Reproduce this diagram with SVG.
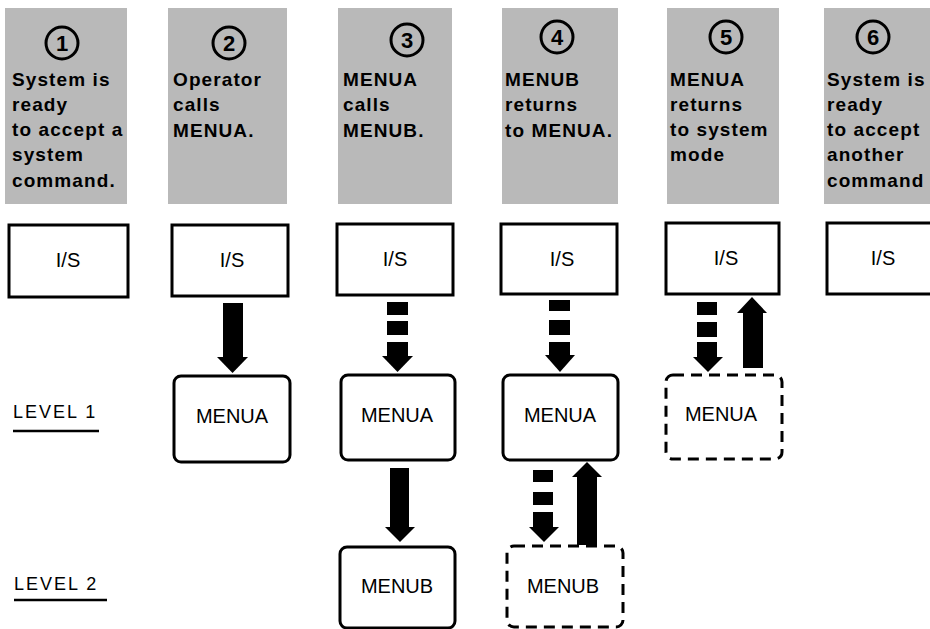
<svg xmlns="http://www.w3.org/2000/svg" width="930" height="629" viewBox="0 0 930 629">
<style>
.panel{fill:#b9b9b9}
.num{fill:none;stroke:#000;stroke-width:3}
.numt{font-family:"Liberation Sans",Arial,sans-serif;font-size:22px;font-weight:bold;text-anchor:middle;fill:#000}
.cap{font-family:"Liberation Sans",Arial,sans-serif;font-weight:bold;font-size:19px;letter-spacing:1.1px;fill:#000}
.box{fill:#fff;stroke:#000;stroke-width:3}
.dbox{fill:#fff;stroke:#000;stroke-width:3;stroke-dasharray:11 7}
.lbl{font-family:"Liberation Sans",Arial,sans-serif;font-size:20px;text-anchor:middle;fill:#000}
.lvl{font-family:"Liberation Sans",Arial,sans-serif;font-size:18px;letter-spacing:2px;fill:#000}
.ul{stroke:#000;stroke-width:2.5}
.arr{fill:#000}
</style>

<g id="step1">
<rect class="panel" x="5" y="8" width="122" height="196"/>
<circle class="num" cx="62" cy="43" r="16"/><text class="numt" x="62" y="51">1</text>
<text class="cap" x="12"><tspan x="12" y="86">System is</tspan><tspan x="12" y="111">ready</tspan><tspan x="12" y="136">to accept a</tspan><tspan x="12" y="161">system</tspan><tspan x="12" y="187">command.</tspan></text>
</g>
<g id="step2">
<rect class="panel" x="168" y="8" width="119" height="196"/>
<circle class="num" cx="229" cy="43" r="16"/><text class="numt" x="229" y="51">2</text>
<text class="cap" x="173"><tspan x="173" y="86">Operator</tspan><tspan x="173" y="111">calls</tspan><tspan x="173" y="137">MENUA.</tspan></text>
</g>
<g id="step3">
<rect class="panel" x="338" y="8" width="114" height="196"/>
<circle class="num" cx="407" cy="40" r="16"/><text class="numt" x="407" y="48">3</text>
<text class="cap" x="343"><tspan x="343" y="86">MENUA</tspan><tspan x="343" y="111">calls</tspan><tspan x="343" y="137">MENUB.</tspan></text>
</g>
<g id="step4">
<rect class="panel" x="502" y="8" width="116" height="196"/>
<circle class="num" cx="557" cy="37" r="16"/><text class="numt" x="557" y="45">4</text>
<text class="cap" x="505"><tspan x="505" y="86">MENUB</tspan><tspan x="505" y="111">returns</tspan><tspan x="505" y="137">to MENUA.</tspan></text>
</g>
<g id="step5">
<rect class="panel" x="667" y="8" width="112" height="196"/>
<circle class="num" cx="726" cy="37" r="16"/><text class="numt" x="726" y="45">5</text>
<text class="cap" x="670"><tspan x="670" y="86">MENUA</tspan><tspan x="670" y="111">returns</tspan><tspan x="670" y="136">to system</tspan><tspan x="670" y="161">mode</tspan></text>
</g>
<g id="step6">
<rect class="panel" x="824" y="8" width="110" height="196"/>
<circle class="num" cx="873" cy="37" r="16"/><text class="numt" x="873" y="45">6</text>
<text class="cap" x="827"><tspan x="827" y="86">System is</tspan><tspan x="827" y="111">ready</tspan><tspan x="827" y="136">to accept</tspan><tspan x="827" y="161">another</tspan><tspan x="827" y="187">command</tspan></text>
</g>

<g id="is1"><rect class="box" x="9" y="225" width="119" height="72"/><text class="lbl" x="68" y="267">I/S</text></g>
<g id="is2"><rect class="box" x="172" y="225" width="116" height="71"/><text class="lbl" x="232" y="267">I/S</text></g>
<g id="is3"><rect class="box" x="337" y="224" width="116" height="71"/><text class="lbl" x="395" y="266">I/S</text></g>
<g id="is4"><rect class="box" x="501" y="224" width="116" height="70"/><text class="lbl" x="562" y="266">I/S</text></g>
<g id="is5"><rect class="box" x="666" y="223" width="113" height="71"/><text class="lbl" x="726" y="265">I/S</text></g>
<g id="is6"><rect class="box" x="827" y="223" width="120" height="71"/><text class="lbl" x="883" y="265">I/S</text></g>

<g id="menua2"><rect class="box" x="174" y="376" width="116" height="86" rx="7"/><text class="lbl" x="232" y="423">MENUA</text></g>
<g id="menua3"><rect class="box" x="341" y="375" width="114" height="85" rx="7"/><text class="lbl" x="397" y="422">MENUA</text></g>
<g id="menua4"><rect class="box" x="503" y="375" width="115" height="85" rx="7"/><text class="lbl" x="560" y="422">MENUA</text></g>
<g id="menua5"><rect class="dbox" x="666" y="375" width="116" height="84" rx="7"/><text class="lbl" x="721" y="421">MENUA</text></g>
<g id="menub3"><rect class="box" x="340" y="547" width="115" height="81" rx="7"/><text class="lbl" x="397" y="593">MENUB</text></g>
<g id="menub4"><rect class="dbox" x="507" y="546" width="116" height="81" rx="7"/><text class="lbl" x="563" y="593">MENUB</text></g>

<g id="level1"><text class="lvl" x="13" y="418">LEVEL 1</text><line class="ul" x1="13" y1="431" x2="99" y2="431"/></g>
<g id="level2"><text class="lvl" x="14" y="590">LEVEL 2</text><line class="ul" x1="14" y1="600" x2="107" y2="600"/></g>

<g id="connectors">
<rect class="arr" x="223" y="303" width="20" height="55"/>
<polygon class="arr" points="217,357 248,357 232.5,373"/>
<rect class="arr" x="387" y="302" width="21" height="13"/>
<rect class="arr" x="387" y="321" width="21" height="14"/>
<rect class="arr" x="387" y="342" width="21" height="15"/>
<polygon class="arr" points="382,356 413,356 397.5,372"/>
<rect class="arr" x="390" y="468" width="19" height="60"/>
<polygon class="arr" points="385,527 415,527 400,542"/>
<rect class="arr" x="549" y="300" width="21" height="11"/>
<rect class="arr" x="549" y="320" width="21" height="15"/>
<rect class="arr" x="549" y="342" width="21" height="14"/>
<polygon class="arr" points="545,355 575,355 560,372"/>
<rect class="arr" x="533" y="470" width="20" height="12"/>
<rect class="arr" x="533" y="492" width="20" height="13"/>
<rect class="arr" x="533" y="512" width="20" height="16"/>
<polygon class="arr" points="529,527 559,527 544,542"/>
<rect class="arr" x="577" y="476" width="20" height="69"/>
<polygon class="arr" points="572,477 602,477 587,462"/>
<rect class="arr" x="697" y="302" width="20" height="13"/>
<rect class="arr" x="697" y="322" width="20" height="15"/>
<rect class="arr" x="697" y="342" width="20" height="16"/>
<polygon class="arr" points="693,357 723,357 708,372"/>
<rect class="arr" x="743" y="312" width="20" height="56"/>
<polygon class="arr" points="737,313 767,313 752,297"/>
</g>
</svg>
